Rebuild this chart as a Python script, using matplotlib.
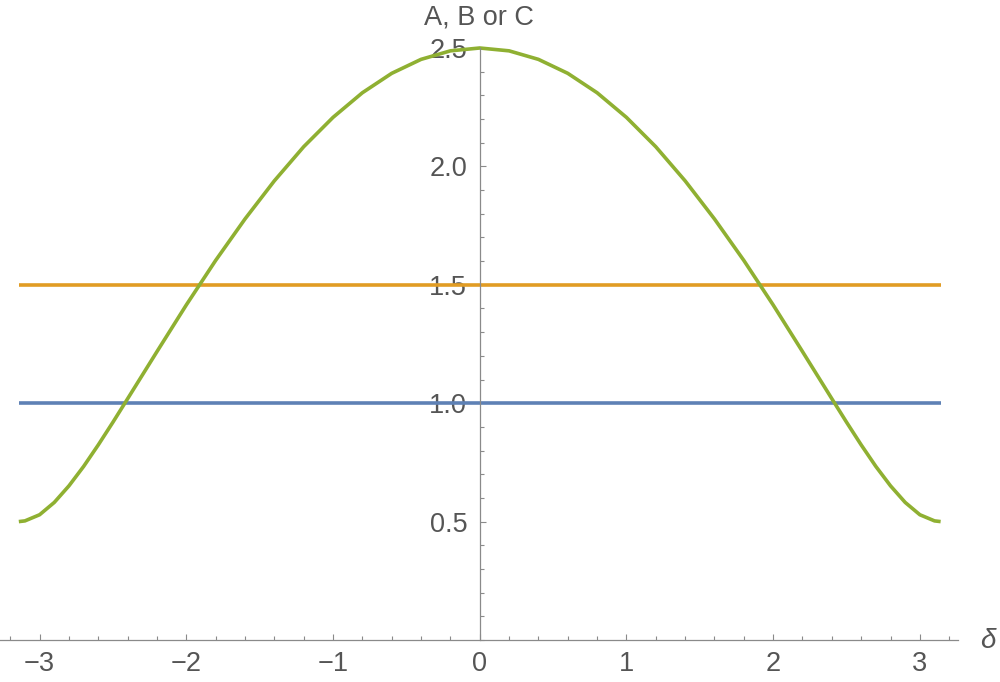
import matplotlib
matplotlib.use("Agg")
import matplotlib.pyplot as plt
from matplotlib.ticker import MultipleLocator

plt.rcParams['font.family'] = ['Liberation Sans', 'DejaVu Sans']

# Data
delta = [-3.1416, -3.1, -3.0, -2.9, -2.8, -2.7, -2.6, -2.5, -2.4, -2.2,
         -2.0, -1.8, -1.6, -1.4, -1.2, -1.0, -0.8, -0.6, -0.4, -0.2, 0.0,
         0.2, 0.4, 0.6, 0.8, 1.0, 1.2, 1.4, 1.6, 1.8, 2.0, 2.2, 2.4, 2.5,
         2.6, 2.7, 2.8, 2.9, 3.0, 3.1, 3.1416]
C = [0.500, 0.503, 0.529, 0.581, 0.651, 0.733, 0.824, 0.920, 1.019, 1.218,
     1.415, 1.603, 1.778, 1.939, 2.083, 2.207, 2.311, 2.393, 2.452, 2.488,
     2.500,
     2.488, 2.452, 2.393, 2.311, 2.207, 2.083, 1.939, 1.778, 1.603, 1.415,
     1.218, 1.019, 0.920, 0.824, 0.733, 0.651, 0.581, 0.529, 0.503, 0.500]
span = [-3.1416, 3.1416]
A = [1.0, 1.0]
B = [1.5, 1.5]

blue = '#5E81B5'
orange = '#E19C24'
green = '#8FB032'
axis_col = '#8a8a8a'
text_col = '#555555'

fig = plt.figure(figsize=(10, 6.82), dpi=100)
ax = fig.add_axes([0, 42 / 682, 0.958, (640 - 48) / 682])

ax.plot(span, A, color=blue, lw=2.6, solid_capstyle='butt')
ax.plot(span, B, color=orange, lw=2.6, solid_capstyle='butt')
ax.plot(delta, C, color=green, lw=2.6, clip_on=False,
        solid_capstyle='butt', solid_joinstyle='round')

ax.set_xlim(-3.27, 3.26)
ax.set_ylim(0, 2.5)

for s in ['top', 'right']:
    ax.spines[s].set_visible(False)
ax.spines['left'].set_position(('data', 0))
ax.spines['bottom'].set_position(('data', 0))
for s in ['left', 'bottom']:
    ax.spines[s].set_color(axis_col)
    ax.spines[s].set_linewidth(0.9)

ax.xaxis.set_major_locator(MultipleLocator(1))
ax.xaxis.set_minor_locator(MultipleLocator(0.2))
ax.yaxis.set_major_locator(MultipleLocator(0.5))
ax.yaxis.set_minor_locator(MultipleLocator(0.1))
ax.set_yticks([0.5, 1.0, 1.5, 2.0, 2.5])
ax.set_yticklabels(['0.5', '1.0', '1.5', '2.0', '2.5'])

ax.tick_params(which='both', direction='in', color=axis_col, width=0.8,
               labelcolor=text_col, labelsize=19.5)
ax.tick_params(which='major', length=4.5)
ax.tick_params(which='minor', length=3)
ax.tick_params(axis='x', pad=8)
ax.tick_params(axis='y', pad=9)
ax.patch.set_visible(False)

fig.text(0.4785, 1 - 17 / 682, 'A, B or C', ha='center', va='center',
         fontsize=19.5, color=text_col)
fig.text(0.988, 1 - 641 / 682, 'δ', ha='center', va='center',
         fontsize=20, color=text_col, style='italic')

fig.savefig('out.png', dpi=100)
